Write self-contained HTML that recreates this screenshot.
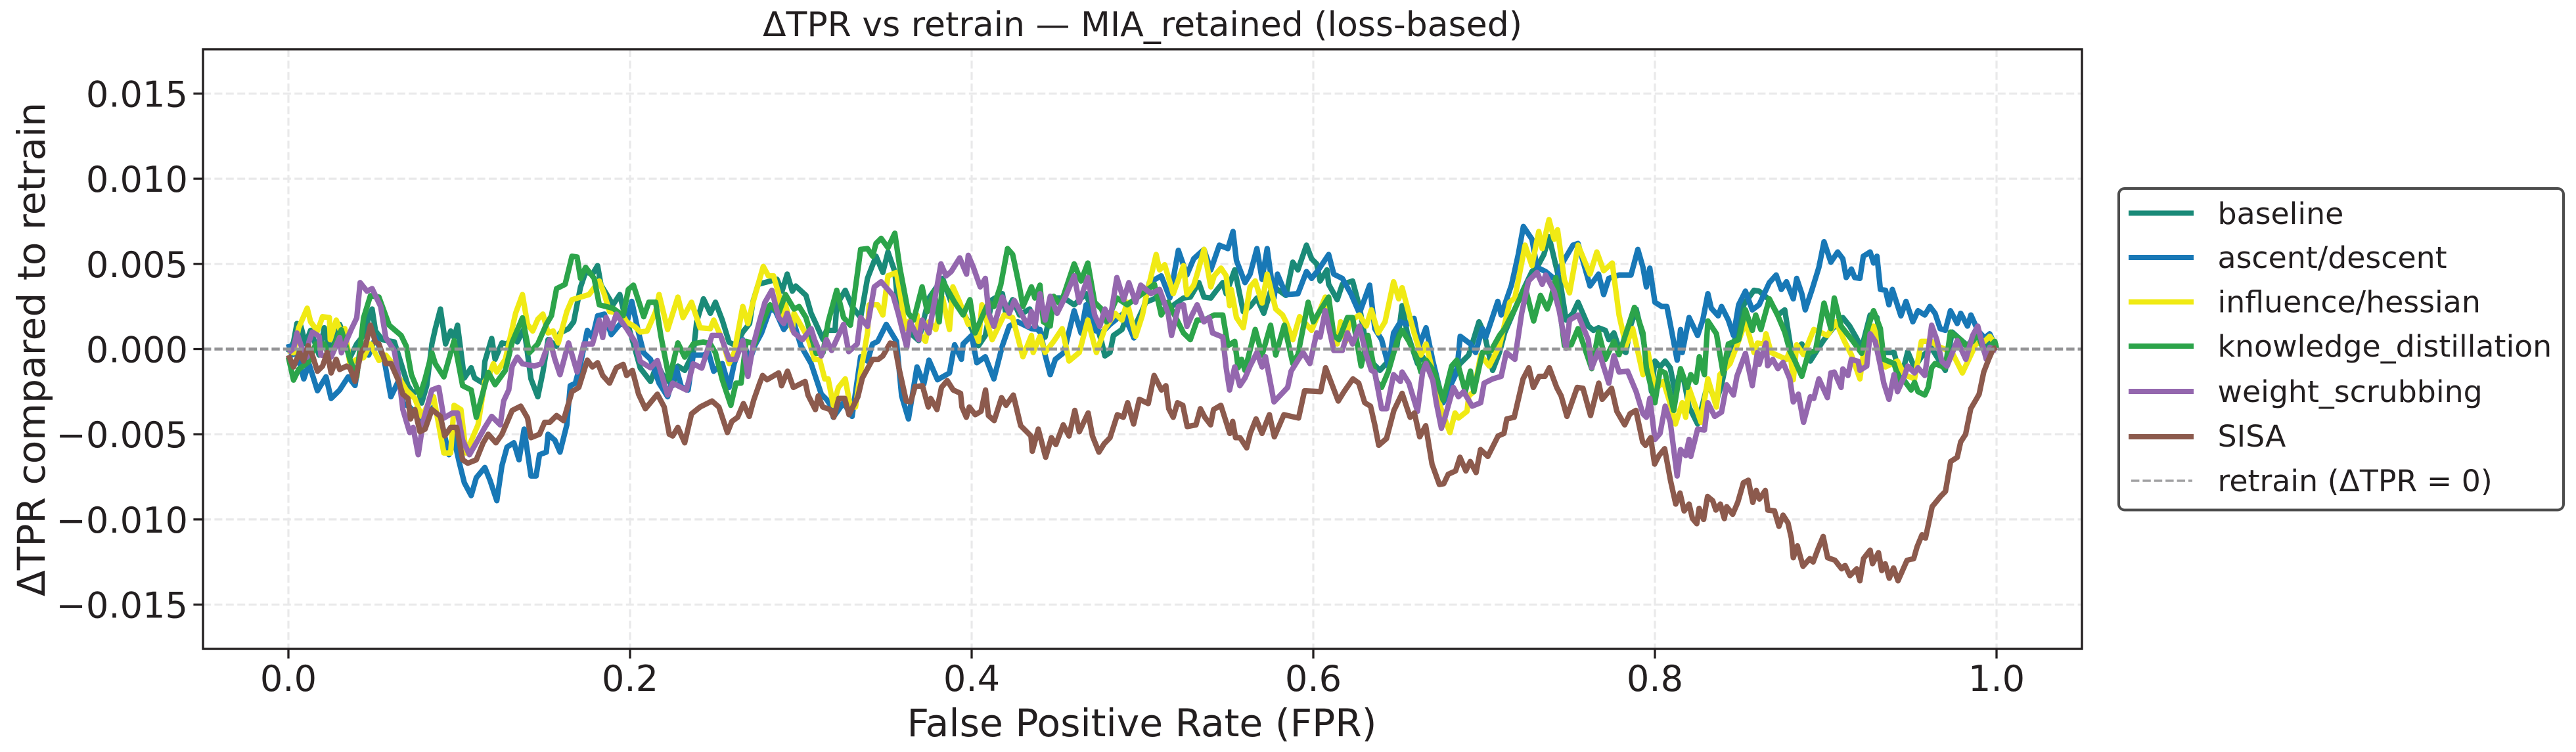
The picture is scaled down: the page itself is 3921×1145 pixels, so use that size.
<!DOCTYPE html>
<html lang="en">
<head>
<meta charset="utf-8">
<title>ΔTPR vs retrain — MIA_retained (loss-based)</title>
<style>
html,body{margin:0;padding:0;background:#fff;}
svg{display:block;}
text{font-family:"DejaVu Sans","Liberation Sans",sans-serif;fill:#231f20;}
</style>
</head>
<body>
<svg id="chart" xmlns="http://www.w3.org/2000/svg" width="3921" height="1145" viewBox="0 0 3921 1145">
  <rect x="0" y="0" width="3921" height="1145" fill="#ffffff"/>
  <g id="grid"></g>
  <g id="series"></g>
  <line id="retrain" stroke="#949496" stroke-width="4.4" stroke-dasharray="12.4 5"/>
  <rect x="309" y="75" width="2860" height="913" fill="none" stroke="#231f20" stroke-width="3.4"/>
  <g id="ticks"></g>
  <text x="1739" y="55" font-size="52" text-anchor="middle">ΔTPR vs retrain — MIA_retained (loss-based)</text>
  <text x="1738" y="1121" font-size="58.3" text-anchor="middle">False Positive Rate (FPR)</text>
  <text transform="translate(68 532) rotate(-90)" font-size="58.3" text-anchor="middle">ΔTPR compared to retrain</text>
  <g>
    <rect x="3225" y="287" width="677" height="489.5" rx="9" ry="9" fill="#ffffff" stroke="#4d4d4d" stroke-width="4"/>
    <g id="legend-rows"></g>
  </g>
</svg>
<script>
// Tick labels
const xTicks = [0, 0.2, 0.4, 0.6, 0.8, 1.0];
const xTickLabels = ["0.0", "0.2", "0.4", "0.6", "0.8", "1.0"];
const yTicks = [-0.015, -0.01, -0.005, 0, 0.005, 0.01, 0.015];
const yTickLabels = ["−0.015", "−0.010", "−0.005", "0.000", "0.005", "0.010", "0.015"];

// Series values: FPR and delta-TPR (in thousandths)
const baselineFpr = [0,.003,.005,.007,.01,.013,.018,.021,.025,.03,.033,.036,.04,.043,.049,.051,.055,.062,.066,.07,.073,.076,.078,.081,.084,.086,.089,.092,.095,.097,.099,.103,.107,.109,.114,.115,.119,.121,.125,.128,.131,.133,.134,.138,.142,.146,.149,.152,.157,.159,.164,.167,.171,.174,.178,.181,.183,.187,.19,.194,.196,.201,.206,.212,.216,.219,.225,.228,.232,.237,.239,.243,.247,.25,.254,.258,.262,.266,.27,.272,
.275,.286,.289,.292,.295,.297,.303,.306,.309,.313,.315,.32,.321,.326,.33,.335,.339,.344,.348,.351,.355,.357,.364,.369,.375,.383,.388,.392,.394,.4,.404,.408,.412,.418,.42,.424,.428,.434,.438,.443,.448,.454,.46,.467,.471,.476,.478,.481,.483,.488,.49,.494,.502,.508,.512,.517,
.524,.528,.533,.536,.54,.543,.547,.549,.554,.559,.563,.567,.571,.575,.579,.584,.588,.591,.596,.599,.602,.604,.608,.609,.614,.617,.623,.627,.63,.635,.639,.644,.649,.652,.655,.661,.664,.671,.675,.68,.686,.691,.697,.7,.705,.709,.712,.718,.723,.728,.731,.735,.738,.742,.745,.748,.752,.755,.761,.764,.767,.771,.773,.776,.779,.783,.786,.789,.793,
.798,.8,.803,.806,.809,.812,.814,.817,.82,.825,.83,.832,.836,.839,.843,.848,.852,.858,.861,.867,.872,.876,.88,.886,.891,.896,.899,.904,.91,.914,.918,.921,.926,.93,.933,.94,.944,.948,.952,.956,.962,.97,.974,.979,.983,.989,.993,.996,1];
const baselineDelta = [-.22,.42,1.5,1.45,.3,1.1,-.35,1.25,-.22,1.45,.68,-.5,.3,.68,2.35,1.06,.55,.42,-.86,-2.14,-2.59,-2.4,-3.17,-2.14,.3,1.2,2.35,.3,1.06,.68,1.4,-1.7,-1.1,-1.7,-2,-.73,.62,-.6,.36,.3,.68,.94,.42,1.2,-1.75,-2.8,-1.35,.55,.17,.94,1.2,1.6,3.63,4.53,4.4,4.9,3.76,3.1,2.6,3.2,2.35,.68,-1.12,-1.9,-.86,-1.5,-2.14,-1,-1.25,-.22,1.6,2.95,2.1,2.75,1.7,.4,.2,1,1.5,2.8,
3.8,4.1,3.4,4.4,3.4,3.7,3.15,2.1,1.45,.55,1.1,1.1,2.6,3.45,2.5,1.85,4.15,5.45,4.5,5.7,4.55,2.4,.95,.5,3,4.15,2.75,2.6,2.35,1.2,.2,.8,2.9,3.25,2.1,2.9,2,2.35,1.2,.7,3,3,2.6,3.25,2.1,.45,-.4,-.2,.8,1.15,1.7,1,2.75,3,2.75,2.5,
3,3.05,3.9,3.05,3,3.4,3.9,3.25,4.65,2.2,2.5,3,2.1,3.4,3.5,3.15,5.1,4.65,6.1,5.3,5,4,4.65,3.8,2.9,3.8,4,2.5,.8,-.85,-1.25,-.7,.2,2.55,.95,-.85,-.45,-1.6,-3.15,-1.85,-.85,-.35,1.6,.95,-1.25,-.2,.95,2.35,3.5,4.55,4.8,5.55,6.6,4.9,3.65,1.7,2.1,2.75,1.35,1.1,1.25,1.1,.55,.95,.05,-.2,1.45,2.35,.7,
-2.5,-.7,-1.05,-.7,-1.1,-2.65,-1.6,-1.85,-3.4,-4.4,-2.4,-2.3,-3.05,-2.1,-.2,.8,2.6,3.45,3.4,2.9,2,2.3,-.2,.3,-.7,.1,.55,1.2,1.85,1.35,.65,.05,2,1.85,-.2,-.2,-1.75,-.15,-1.1,-.45,.05,-1.25,1,.55,.2,.95,-.2,.7,.05];

const ascentFpr = [0,.002,.005,.009,.012,.017,.022,.025,.03,.035,.039,.042,.047,.051,.056,.06,.065,.067,.071,.078,.085,.09,.094,.097,.098,.1,.103,.107,.11,.115,.118,.122,.125,.128,.132,.135,.138,.142,.145,.147,.151,.152,.156,.159,.163,.165,.168,.171,.175,.178,.181,.185,.189,.194,.198,.201,.205,.208,.212,.217,.222,.227,.23,.234,.237,.243,.246,.249,
.254,.258,.261,.266,.27,.273,.277,.282,.285,.29,.295,.3,.306,.309,.312,.315,.318,.319,.325,.33,.335,.339,.342,.345,.35,.356,.359,.363,.368,.372,.375,.38,.387,.39,.394,.395,.4,.403,.408,.413,.418,.422,.427,.435,.44,.443,.446,.449,.454,.46,.464,.467,.472,.476,.481,.489,.495,.5,.504,.511,.516,.521,
.526,.53,.536,.54,.545,.55,.553,.555,.56,.563,.567,.57,.573,.577,.579,.584,.591,.596,.599,.603,.609,.612,.617,.622,.627,.633,.636,.64,.644,.647,.651,.655,.659,.662,.666,.67,.676,.681,.684,.686,.692,.695,.699,.701,.708,.71,.716,.72,.723,.728,.731,.736,.742,.745,.752,.755,.762,.767,.77,.773,.779,.786,.79,
.793,.795,.797,.8,.804,.807,.81,.813,.815,.816,.82,.825,.828,.831,.833,.837,.839,.843,.846,.849,.853,.857,.861,.867,.871,.874,.877,.881,.883,.886,.888,.892,.896,.899,.903,.907,.91,.912,.915,.917,.92,.922,.926,.928,.93,.932,.935,.937,.939,.944,.947,.951,.954,.958,.961,.964,.967,.97,.973,.977,.979,.983,.985,.989,.993,.996,1];
const ascentDelta = [.3,-.35,-.22,-1.75,-.86,-2.45,-1.63,-2.9,-2.4,-1.63,-2.14,-.22,-.35,.68,-.6,-2.8,-1.75,-3.17,-3.4,-4.2,-3.4,-4.45,-6.2,-5.1,-5.75,-6.65,-7.85,-8.6,-7.55,-6.95,-7.7,-8.9,-6.85,-5.75,-5.5,-6.5,-4.7,-7.45,-7.45,-6.2,-6.05,-5,-5.35,-6.05,-4.45,-2.15,-2,-.86,1.1,.68,1.95,2.05,.85,1.45,1.45,2.8,.95,-.22,-.6,-2,-2.8,-1.1,-2.2,-2.4,-.35,-.35,-.22,-1.3,
-.85,-2.25,-.85,.55,-.7,.2,.95,2.35,2.25,1.15,1.85,.2,-.85,-1.75,-2.65,-2.95,-3.4,-4,-3.15,-3.95,-.45,-.7,.3,.45,1.45,.45,-2.75,-4.1,-1.05,-2.05,-.65,-1.8,-1.4,.25,-.6,.3,.8,-.8,-.45,-1.75,.2,1.35,1.6,1.2,1.15,-.35,-1.5,-.6,-.2,2.25,.95,2.6,1.1,.95,1.45,2.1,.65,2.1,3.9,4.3,3,5.8,
4.35,5.3,5.85,4.65,6.1,5.9,6.9,5.2,3.9,4.4,5.9,4.1,5.9,3,4.4,3.2,3.25,4.55,4.15,4.65,5.55,4.4,4.15,3.25,2.1,3.75,1.2,.55,-1,.95,1.6,1.45,1.8,.2,1.25,-.7,-3.15,-2,-1.35,.75,.3,-.2,1.2,.7,2.8,2,3.75,5.55,7.2,6.45,4.8,4.55,4.05,4.9,6.1,6.2,3.7,4.4,3.2,4.15,4.35,4.35,5.85,
4.8,3.65,4.75,2.75,2.5,2.5,.95,-.65,1.15,-.2,1.85,.8,1.7,3.25,2.4,1.95,2.5,1.7,.8,2.6,3.4,2.3,2.6,3.9,4.35,3.5,3.95,2.95,4.15,3.25,2.3,3.5,4.8,6.3,5.1,5.7,5.3,4.2,4.7,4.2,4.15,5.45,5.7,5.05,5.45,3.5,3.45,2.6,3.5,1.95,2.8,1.6,2.25,2,2.5,2.1,1.2,1.1,2.25,1.5,2.1,1.35,2,1.1,.65,.9,.05];

const influenceFpr = [0,.003,.006,.011,.013,.017,.02,.024,.0245,.028,.031,.033,.036,.04,.044,.048,.053,.057,.06,.066,.069,.074,.078,.081,.085,.091,.095,.097,.101,.104,.108,.111,.115,.118,.12,.122,.127,.133,.137,.14,.143,.146,.149,.152,.155,.158,.163,.166,.176,.182,.185,.188,.195,.198,.203,.206,.21,.215,.217,.222,.228,.231,.236,.241,.247,.249,
.254,.258,.261,.266,.269,.272,.275,.278,.281,.284,.287,.29,.291,.295,.296,.304,.308,.311,.314,.316,.319,.322,.326,.329,.332,.335,.339,.34,.345,.348,.351,.356,.359,.361,.363,.368,.369,.373,.375,.379,.383,.387,.389,.393,.398,.4,.404,.406,.412,.419,.424,.43,.435,.436,.44,.443,.448,.453,.457,.463,.468,.473,.478,.484,.488,.491,.496,.5,.502,.508,.51,.513,.518,
.524,.526,.53,.532,.536,.54,.542,.546,.549,.551,.552,.555,.559,.563,.566,.57,.573,.578,.582,.584,.588,.592,.599,.607,.611,.614,.616,.619,.621,.627,.631,.634,.638,.642,.647,.65,.652,.659,.663,.666,.67,.672,.676,.68,.683,.685,.69,.691,.694,.698,.703,.709,.712,.715,.718,.724,.728,.732,.734,.738,.741,.743,.747,.75,.755,.762,.766,.77,.775,.779,.783,.787,.793,
.796,.8,.805,.81,.812,.816,.818,.82,.827,.831,.836,.838,.844,.848,.853,.858,.86,.864,.865,.868,.877,.879,.881,.883,.887,.893,.901,.906,.911,.915,.92,.922,.928,.932,.935,.942,.946,.952,.956,.962,.965,.974,.98,.988,.993,.996,1];
const influenceDelta = [-.1,-.22,1.25,2.4,1.6,1.06,1.9,1.85,.55,1.7,.94,1.2,-.86,-.6,-.5,.3,-.67,-.35,-.73,-1.9,-2.4,-2.9,-3.95,-3.4,-2.8,-6.1,-6.1,-3.3,-3.55,-6.1,-5.15,-4.45,-1.9,-1.4,-.86,-1.35,-.6,2.1,3.2,1.45,1.06,1.75,2.05,.95,1.06,.36,2.2,2.9,3.2,4,3.2,2.2,2.1,1.6,1.3,1,1.06,2.2,3.2,1.15,3.05,1.85,2.75,1.25,1.2,1.7,
.55,-.85,-.2,2.5,1.5,2.75,3.8,4.85,4.3,4.3,3.25,1.7,2.6,1.1,2.1,.7,-.6,-.6,-1.75,-1.75,-3.3,-2.25,-1.75,-3.4,-3.4,-1.35,.95,2.6,2.6,2,4.3,4.5,2.75,1.2,1.6,2,.95,.45,1.6,1.15,3,1.15,3.65,2.75,1.45,1.6,.45,2.6,.55,2,1.85,-.45,.8,-.2,.75,-.2,.45,1.2,-.7,-.2,1.7,-.2,1.2,2.1,1.7,2.75,.75,2,3,5.55,4.65,4.95,3.25,
4.9,3.2,3.75,4.4,5.85,3.65,4.3,4.75,4.3,2.55,3.5,1.85,1.25,3.65,4,2.7,4.4,2.35,2,1.6,.55,1.9,1.1,3.05,1,.3,1.6,.45,1.6,2,1.35,2.3,.95,1.6,3.95,2.95,3.6,.95,-.35,.3,-1.35,-2.65,-3.85,-4.9,-3.75,-4.05,-3.65,-2.75,-2.5,-.35,-1,.2,1.45,2.75,3,6.1,4.9,6.9,5.9,7.6,6.45,7,4.05,3.3,6.1,4.4,5.7,4.6,5.05,2,.2,1.2,-1.5,
-.2,-2.4,-1.9,-3.55,-4.4,-3.15,-4,-2.3,-4.3,-1.75,-3.4,-1.5,-.85,.2,1.6,-.2,.35,.3,.9,-.2,-.6,-.1,-1.8,.25,-.33,1.15,.8,1.6,.45,-.33,-1.75,-.33,1.35,-.1,-1.05,-.7,-1.5,-1.75,.45,.45,.2,-.2,-1.4,.3,.45,.75,.2];

const knowledgeFpr = [0,.003,.006,.012,.016,.021,.024,.031,.036,.04,.044,.048,.053,.059,.066,.069,.072,.077,.08,.084,.086,.091,.097,.102,.107,.11,.114,.117,.121,.127,.131,.137,.141,.146,.151,.154,.157,.162,.166,.169,.171,.174,.179,.182,.19,.196,.199,.202,.208,.211,.215,.218,.223,.228,.232,.237,.243,.247,.25,
.254,.259,.262,.265,.268,.273,.277,.282,.287,.291,.296,.299,.303,.306,.309,.313,.316,.321,.325,.329,.335,.339,.342,.344,.347,.351,.355,.358,.363,.366,.371,.374,.378,.381,.383,.39,.395,.399,.402,.407,.41,.413,.417,.421,.424,.428,.43,.435,.437,.44,.442,.446,.448,.452,.458,.46,.464,.468,.472,.476,.479,.485,.491,.502,.507,.511,.515,.524,
.528,.532,.536,.542,.547,.55,.554,.556,.558,.56,.566,.57,.575,.578,.583,.588,.591,.597,.6,.603,.609,.612,.615,.62,.623,.628,.632,.637,.64,.644,.649,.652,.656,.661,.663,.666,.671,.676,.681,.684,.689,.692,.694,.699,.704,.709,.712,.718,.724,.729,.733,.737,.739,.742,.747,.751,.755,.763,.767,.771,.776,.779,.788,.793,
.795,.8,.803,.806,.811,.815,.819,.821,.824,.826,.829,.831,.836,.84,.843,.849,.853,.857,.859,.862,.867,.872,.876,.879,.882,.886,.89,.894,.899,.903,.905,.909,.916,.921,.925,.928,.932,.934,.94,.943,.946,.95,.952,.954,.958,.96,.962,.964,.97,.973,.979,.982,.986,.989,.993,.999,1];
const knowledgeDelta = [-.47,-1.82,-1.19,-.73,.3,.3,-.47,1.13,-.6,-1.63,1.83,3.13,3.05,1.4,.8,.17,-1.5,-2.72,-1.76,-.22,-.86,-1.63,.49,-2.15,-2.4,-4,-2.5,-1.37,-2.09,-1.25,.4,1.83,-.22,.3,1.45,1.96,3.55,3.8,5.45,5.4,4.15,4.8,4.15,2.6,2.4,1.96,3.5,3.75,1.9,2.75,2.75,.8,-1.76,.36,-.47,.3,.42,.3,-.22,
-1.8,-3.3,-2,-2,.45,.3,1.5,2.6,2.1,3.2,2.35,2.5,1.85,.8,-.25,-.2,1.6,3.45,1.85,1.4,5.85,5.9,5.45,6.2,6.5,5.95,6.8,4.75,2.1,1.7,3.65,2.2,3.4,1.6,4,2.75,2,2.9,.95,2.1,2.75,2.5,3.75,5.9,5.55,3.65,2.5,3.65,3,3.75,1.6,1.35,3.1,2.6,4.4,5,4,5.05,2.75,2.35,1.6,3,2.6,3.4,3.8,2,2.75,.95,
.55,1.7,1.7,2,2,.2,.45,-1.1,-.6,-1.25,1.15,-.35,1.4,-.35,1.4,-.85,-.33,2.75,1.6,2.1,3.05,.8,.55,1.85,1.85,-1,.8,-1.9,-2.25,-1.3,.45,1.1,.45,-.6,-1.35,-.65,-1.35,-3,-1,-.65,-2.5,-1.3,-2.5,-.2,-.1,.8,1.2,2.35,3.65,1.65,3.15,2.35,2.9,4.2,.2,.25,1.2,-1.15,1,-.6,.45,-.33,2.45,.95,
-1.1,-3.15,-1.25,-1.4,-3.6,-1.15,-2.25,-1.5,-1.95,-.45,-1.5,1.65,.9,-1.45,.3,.55,2.3,1.1,2,1.15,2.95,1.95,1,-.1,-.7,-1.6,-.2,-.1,2.7,1.2,3,1.35,.45,-.25,1.35,2.25,1.2,-.6,-.85,-1.85,-1.85,-2.4,-1.95,-2.5,-2.7,-2.25,-1.1,-.85,-1.1,1,.55,.2,.45,.85,-.2,.45,.05];

const scrubbingFpr = [0,.003,.005,.008,.011,.012,.014,.018,.019,.025,.03,.031,.035,.037,.04,.042,.046,.049,.054,.057,.062,.065,.067,.071,.073,.076,.079,.084,.088,.091,.096,.099,.102,.106,.11,.115,.119,.124,.126,.129,.131,.134,.137,.144,.148,.153,.156,.159,.164,.169,.173,.178,.182,.184,.186,.189,.192,.198,.203,.206,.212,.216,.222,.225,.233,.237,.242,.248,.253,
.258,.262,.266,.269,.272,.276,.279,.283,.287,.29,.292,.296,.301,.306,.308,.312,.315,.318,.325,.328,.333,.335,.339,.343,.347,.354,.357,.362,.364,.369,.371,.375,.382,.385,.388,.393,.397,.398,.401,.405,.408,.41,.413,.418,.422,.425,.429,.433,.435,.437,.44,.443,.446,.45,.455,.46,.463,.468,.472,.475,.478,.481,.485,.489,.492,.496,.499,.505,.51,.515,.517,.521,
.524,.526,.529,.532,.536,.539,.541,.547,.549,.551,.554,.557,.56,.563,.567,.57,.572,.574,.577,.585,.587,.591,.594,.598,.602,.604,.607,.612,.617,.62,.623,.627,.631,.634,.636,.64,.643,.647,.651,.652,.656,.661,.664,.666,.67,.672,.675,.677,.682,.685,.688,.693,.698,.7,.705,.71,.713,.718,.722,.726,.731,.734,.736,.741,.744,.748,.75,.755,.761,.763,.767,.773,.776,.779,.784,.789,.793,
.795,.797,.8,.803,.806,.809,.813,.815,.818,.82,.821,.825,.829,.831,.835,.839,.842,.846,.848,.853,.857,.86,.861,.865,.866,.869,.872,.875,.879,.881,.884,.887,.891,.893,.896,.901,.903,.905,.909,.91,.913,.915,.919,.92,.924,.926,.929,.932,.934,.937,.94,.942,.946,.948,.952,.954,.958,.962,.965,.968,.971,.977,.982,.986,.989,.994,.996,1];
const scrubbingDelta = [-.22,.03,.94,.03,-.47,.42,1,.74,-.35,-.47,.68,-.22,.74,1.2,1.83,3.9,3.4,3.55,2.5,.68,-.1,-1.9,-3.55,-4.9,-4.6,-6.2,-4.2,-2.4,-2.25,-4.05,-3.75,-3.75,-5.35,-6.2,-5.5,-4.6,-3.95,-4.45,-3.05,-2.4,-1,-.47,-.86,-1,-.86,.55,-.6,-1.5,.36,-1.35,.3,.3,1.7,.68,1.85,1.2,2.05,1.2,.42,-.73,-1.1,-.67,-2.7,-2,-2.4,-.86,-1.12,.8,.8,
-.6,-.6,.5,-1.6,.18,1.7,2.75,3.45,1.85,1.5,2.1,.95,.55,1.2,.55,-.4,.55,-.08,1.45,-.15,.3,1.85,1.33,3.65,3.95,3.15,2.1,.1,1.6,.55,1.7,.95,5,4.3,4.55,5.35,4.4,5.5,4.8,3.65,4.15,2.1,1.33,3.05,2.1,2.85,2.1,1.33,2.2,1.33,3.25,1.7,3.1,2.1,3.1,4.3,2.75,4.2,2,1.33,2.35,1.7,4.2,2.9,3.9,2.75,3.75,3.25,3.5,2.1,.8,2.5,
2.6,1.33,2,2.6,1.6,1.85,.95,.7,-1.1,-2.4,-1.05,-2.15,-1.7,-1,-.2,-1.05,-.45,-1.5,-3.1,-2.25,-1.3,-.65,-.2,-.85,.95,.7,2.25,-.08,-.08,.95,.3,1.35,-.33,-1.25,-1.35,-3.5,-3.5,-1.5,-1.9,-1.35,-2,-3.65,-1.35,-.85,-1.85,-3.15,-4.65,-4.05,-2.25,-2.8,-2.5,-3.35,-3.15,-2,-1.75,-1.6,-.2,-.6,2.1,4,4.5,3.8,4.35,3.4,2.25,.05,1.7,2,.55,-1.1,-.08,-2,-.4,-1.35,-1.3,-2.5,-3.8,
-4,-2.9,-5.3,-4.95,-3.35,-4.3,-7.45,-5.9,-6.25,-5.3,-6.3,-4.7,-4.75,-3.15,-3.95,-3.7,-2.1,-2.7,-1.6,-.25,-2.15,-.2,-.9,.35,-.98,-.6,-1.15,-.78,-1.75,-3.1,-2.65,-4.3,-2.8,-2.9,-1.75,-2.85,-1.4,-1.35,-2.25,-1.17,-1.55,-.6,-.72,-1.25,-1,.9,.44,-.98,-2,-2.95,-1.5,-2.5,-1.6,-1,-1.4,-1.1,-1.55,1.4,.56,-.72,-1,.5,-.6,.8,1.35,-.6,.1,-.08];

const sisaFpr = [0,.003,.0065,.0089,.0115,.014,.017,.02,.0227,.025,.028,.03,.034,.036,.039,.0425,.045,.048,.051,.053,.057,.06,.064,.067,.07,.0715,.074,.077,.08,.084,.089,.0915,.095,.0985,.102,.105,.11,.114,.117,.1215,.125,.131,.136,.14,.142,.147,.15,.153,.157,.161,.166,.17,.175,.178,.181,.184,.188,.192,.196,.198,.2014,.205,.209,.216,.22,.223,.225,.228,.232,.236,.241,.248,.252,
.257,.2596,.263,.2664,.2698,.2724,.2759,.2776,.2802,.287,.2887,.2922,.2956,.3025,.3042,.3085,.3102,.3128,.3171,.3193,.3222,.3257,.3282,.3334,.336,.342,.3454,.348,.3523,.3548,.3574,.3617,.3643,.3669,.3712,.3746,.376,.3797,.3823,.3857,.3892,.3935,.3943,.3969,.3986,.4021,.4055,.4081,.4098,.4132,.4175,.4201,.4244,.4287,.4347,.4355,.439,.4433,.4467,.4493,.4536,.457,.4604,.463,.4682,.4707,.4745,.4776,.481,.4853,.4888,.4913,.4948,.4982,.5034,.5068,.5111,.5137,.5154,.518,.5205,
.5236,.5262,.5313,.5339,.5365,.5399,.5416,.5459,.5511,.5528,.5545,.5571,.561,.5631,.5665,.57,.5743,.5772,.5828,.5914,.5949,.6043,.6072,.6146,.618,.6232,.6266,.6301,.6335,.6361,.6383,.6429,.6472,.652,.6567,.6592,.6623,.6658,.6695,.6738,.6764,.679,.6833,.6859,.6893,.6919,.6953,.6979,.7022,.7082,.7116,.7133,.7176,.7228,.7262,.7288,.7322,.7356,.7382,.7425,.7451,.7485,.7545,.7579,.7623,.7671,.7691,.7746,.7777,.7823,.7854,.7889,.7928,
.7945,.7975,.7998,.8024,.8057,.8092,.8122,.8147,.8171,.82,.822,.8245,.8259,.8285,.8308,.8338,.8357,.8383,.8406,.842,.8455,.8485,.8518,.8547,.8573,.8593,.8612,.8646,.8661,.87,.8726,.875,.8779,.8799,.881,.8834,.8867,.8907,.8926,.8956,.8985,.9011,.9054,.9093,.9113,.9142,.9181,.92,.9221,.926,.9274,.9309,.9328,.9348,.9372,.9397,.9423,.9476,.9515,.9535,.9564,.9584,.9623,.9652,.9672,.9701,.9731,.977,.979,.9819,.9849,.9878,.9898,.9925,.9954,.998,1];
const sisaDelta = [-.35,-1.05,-.2,-.7,.2,-.35,-1.3,-1,-.2,-1.4,-.6,-1.2,-1,-1.1,-1.9,-.2,.15,1.4,.4,.3,-.85,-.85,-1.75,-2.65,-2.9,-4.1,-3.55,-4.85,-4.7,-3.55,-3.95,-5.1,-4.6,-4.6,-6.5,-6.7,-6.5,-5.5,-5,-5.5,-5,-3.6,-3.35,-4.05,-5.2,-5,-4.3,-4.3,-3.9,-4.2,-2.5,-2.25,-.65,-1.05,-.8,-1.55,-2,-1.1,-.9,-1.55,-1.25,-2.65,-3.5,-2.65,-3.4,-5,-5.1,-4.6,-5.5,-3.8,-3.4,-3.05,-3.4,
-4.9,-4.25,-4,-3.2,-3.95,-3,-2,-1.55,-1.8,-1.4,-2.15,-1.3,-2.25,-1.9,-2.7,-3.55,-2.75,-3.4,-3.55,-4,-2.9,-2.9,-3.85,-2.8,-1.7,-.6,-.6,-.4,.35,.3,-1.1,-3.05,-3.1,-2.2,-2.15,-3.4,-2.9,-3.55,-2.25,-1.85,-2.4,-2.6,-3.4,-4,-3.4,-3.85,-3.65,-2.4,-3.9,-4.2,-2.85,-3.3,-2.7,-4.5,-5.1,-6,-4.7,-6.35,-5.2,-5.6,-4.45,-5.1,-3.6,-4.85,-3.75,-5.1,-6.05,-5.55,-5.2,-3.85,-4,-3.15,-4.4,-2.95,-3.2,-1.55,-2.4,-2.15,-3.5,-4,-3.15,
-3.3,-4.55,-4.45,-3.5,-4,-4.45,-3.55,-3.3,-4.95,-4.25,-5.2,-5.2,-5.8,-4.95,-4.1,-4.95,-3.85,-5.15,-3.85,-4.05,-2.45,-2.5,-1.1,-3.05,-2.5,-1.75,-2,-3.15,-3.35,-4.5,-5.65,-5.25,-3.6,-2.6,-4,-3.75,-5.15,-4.5,-6.75,-7.95,-7.9,-7.35,-7.15,-6.35,-7.15,-6.6,-7.25,-5.9,-6.3,-5.1,-4.95,-4.1,-4,-1.75,-1.1,-2.25,-1.6,-1.6,-1.1,-2.25,-2.75,-3.95,-2.25,-2.3,-3.9,-2,-2.95,-2.3,-3.65,-4.45,-3.8,-3.6,-5.45,
-5.65,-5.2,-6.75,-6.25,-5.85,-7.75,-9.1,-8.45,-9.5,-9.1,-9.95,-10.25,-9.35,-10,-8.65,-8.9,-9.45,-9.1,-9.95,-9.25,-9.7,-9,-7.85,-7.7,-9,-8.3,-8.8,-8.3,-9.45,-9.5,-10.4,-9.75,-10.2,-11.1,-12.25,-11.55,-12.75,-12.3,-12.5,-11.7,-11,-12.25,-12.4,-12.9,-12.7,-13.3,-12.9,-13.6,-12.3,-11.8,-12.6,-11.95,-13,-12.6,-13.45,-12.85,-13.6,-12.4,-12.3,-11.6,-10.9,-11.1,-9.25,-8.9,-8.65,-8.35,-6.6,-6.35,-5.45,-5,-3.5,-3,-2.65,-1.35,-.6,0,.1];

// Series styling and legend text
const seriesNames = ["baseline", "ascent/descent", "influence/hessian", "knowledge_distillation", "weight_scrubbing", "SISA"];
const seriesColors = ["#1a8a78", "#1878b6", "#f0ea14", "#2ca44a", "#9467ae", "#8c5a4d"];
const seriesFpr = [baselineFpr, ascentFpr, influenceFpr, knowledgeFpr, scrubbingFpr, sisaFpr];
const seriesDelta = [baselineDelta, ascentDelta, influenceDelta, knowledgeDelta, scrubbingDelta, sisaDelta];

const NS = "http://www.w3.org/2000/svg";
const plot = {left: 309, right: 3169, top: 75, bottom: 988};
const xDomain = [-0.05, 1.05];
const yDomain = [-0.0176, 0.0176];
function xScale(v) {
  return plot.left + (v - xDomain[0]) / (xDomain[1] - xDomain[0]) * (plot.right - plot.left);
}
function yScale(v) {
  return plot.bottom - (v - yDomain[0]) / (yDomain[1] - yDomain[0]) * (plot.bottom - plot.top);
}
function make(tag, attrs, parent) {
  const el = document.createElementNS(NS, tag);
  Object.keys(attrs).forEach(function (k) { el.setAttribute(k, attrs[k]); });
  parent.appendChild(el);
  return el;
}
const gridGroup = document.getElementById("grid");
const tickGroup = document.getElementById("ticks");
const seriesGroup = document.getElementById("series");
const legendGroup = document.getElementById("legend-rows");
const gridStyle = {stroke: "#e9e9ea", "stroke-width": 3.2, "stroke-dasharray": "12 5.4", fill: "none"};

xTicks.forEach(function (t, i) {
  const px = xScale(t);
  const g = make("line", Object.assign({x1: px, x2: px, y1: plot.top, y2: plot.bottom}, gridStyle), gridGroup);
  
  
  const m = make("line", {x1: px, x2: px, y1: plot.bottom, y2: plot.bottom + 14.6, stroke: "#231f20", "stroke-width": 3.3}, tickGroup);
  
  
  const l = make("text", {x: px, y: 1052, "font-size": 54.2, "text-anchor": "middle"}, tickGroup);
  l.textContent = xTickLabels[i];
  
  
});
yTicks.forEach(function (t, i) {
  const py = yScale(t);
  const g = make("line", Object.assign({x1: plot.left, x2: plot.right, y1: py, y2: py}, gridStyle), gridGroup);
  
  
  const m = make("line", {x1: plot.left - 14.6, x2: plot.left, y1: py, y2: py, stroke: "#231f20", "stroke-width": 3.3}, tickGroup);
  
  
  const l = make("text", {x: 286, y: py + 20, "font-size": 54.2, "text-anchor": "end"}, tickGroup);
  l.textContent = yTickLabels[i];
  
  
});

seriesNames.forEach(function (name, s) {
  const fpr = seriesFpr[s];
  const delta = seriesDelta[s];
  const n = Math.min(fpr.length, delta.length);
  let d = "";
  for (let i = 0; i < n; i++) {
    d += (i ? "L" : "M") + xScale(fpr[i]).toFixed(1) + " " + yScale(delta[i] / 1000).toFixed(1);
  }
  const p = make("path", {d: d, fill: "none", stroke: seriesColors[s], "stroke-width": 8.3, "stroke-linejoin": "round", "stroke-linecap": "butt"}, seriesGroup);
  
  p.setAttribute('data-series', name);
  
});

const retrain = document.getElementById("retrain");
retrain.setAttribute("x1", plot.left);
retrain.setAttribute("x2", plot.right);
retrain.setAttribute("y1", yScale(0));
retrain.setAttribute("y2", yScale(0));

const legendY = [324.5, 392, 459.6, 527, 596, 665];
const legendBaseline = [341, 408, 475.5, 543, 612, 680];
seriesNames.forEach(function (name, s) {
  const sw = make("line", {x1: 3240, x2: 3339, y1: legendY[s], y2: legendY[s], stroke: seriesColors[s], "stroke-width": 8}, legendGroup);
  
  
  const t = make("text", {x: 3375.5, y: legendBaseline[s], "font-size": 45.8}, legendGroup);
  t.textContent = name;
  
  
});
const retrainSwatch = make("line", {x1: 3244, x2: 3337, y1: 732, y2: 732, stroke: "#a0a0a2", "stroke-width": 3.6, "stroke-dasharray": "12.4 5"}, legendGroup);


const retrainText = make("text", {x: 3375.5, y: 748, "font-size": 45.8}, legendGroup);
retrainText.textContent = "retrain (ΔTPR = 0)";


</script>
</body>
</html>
